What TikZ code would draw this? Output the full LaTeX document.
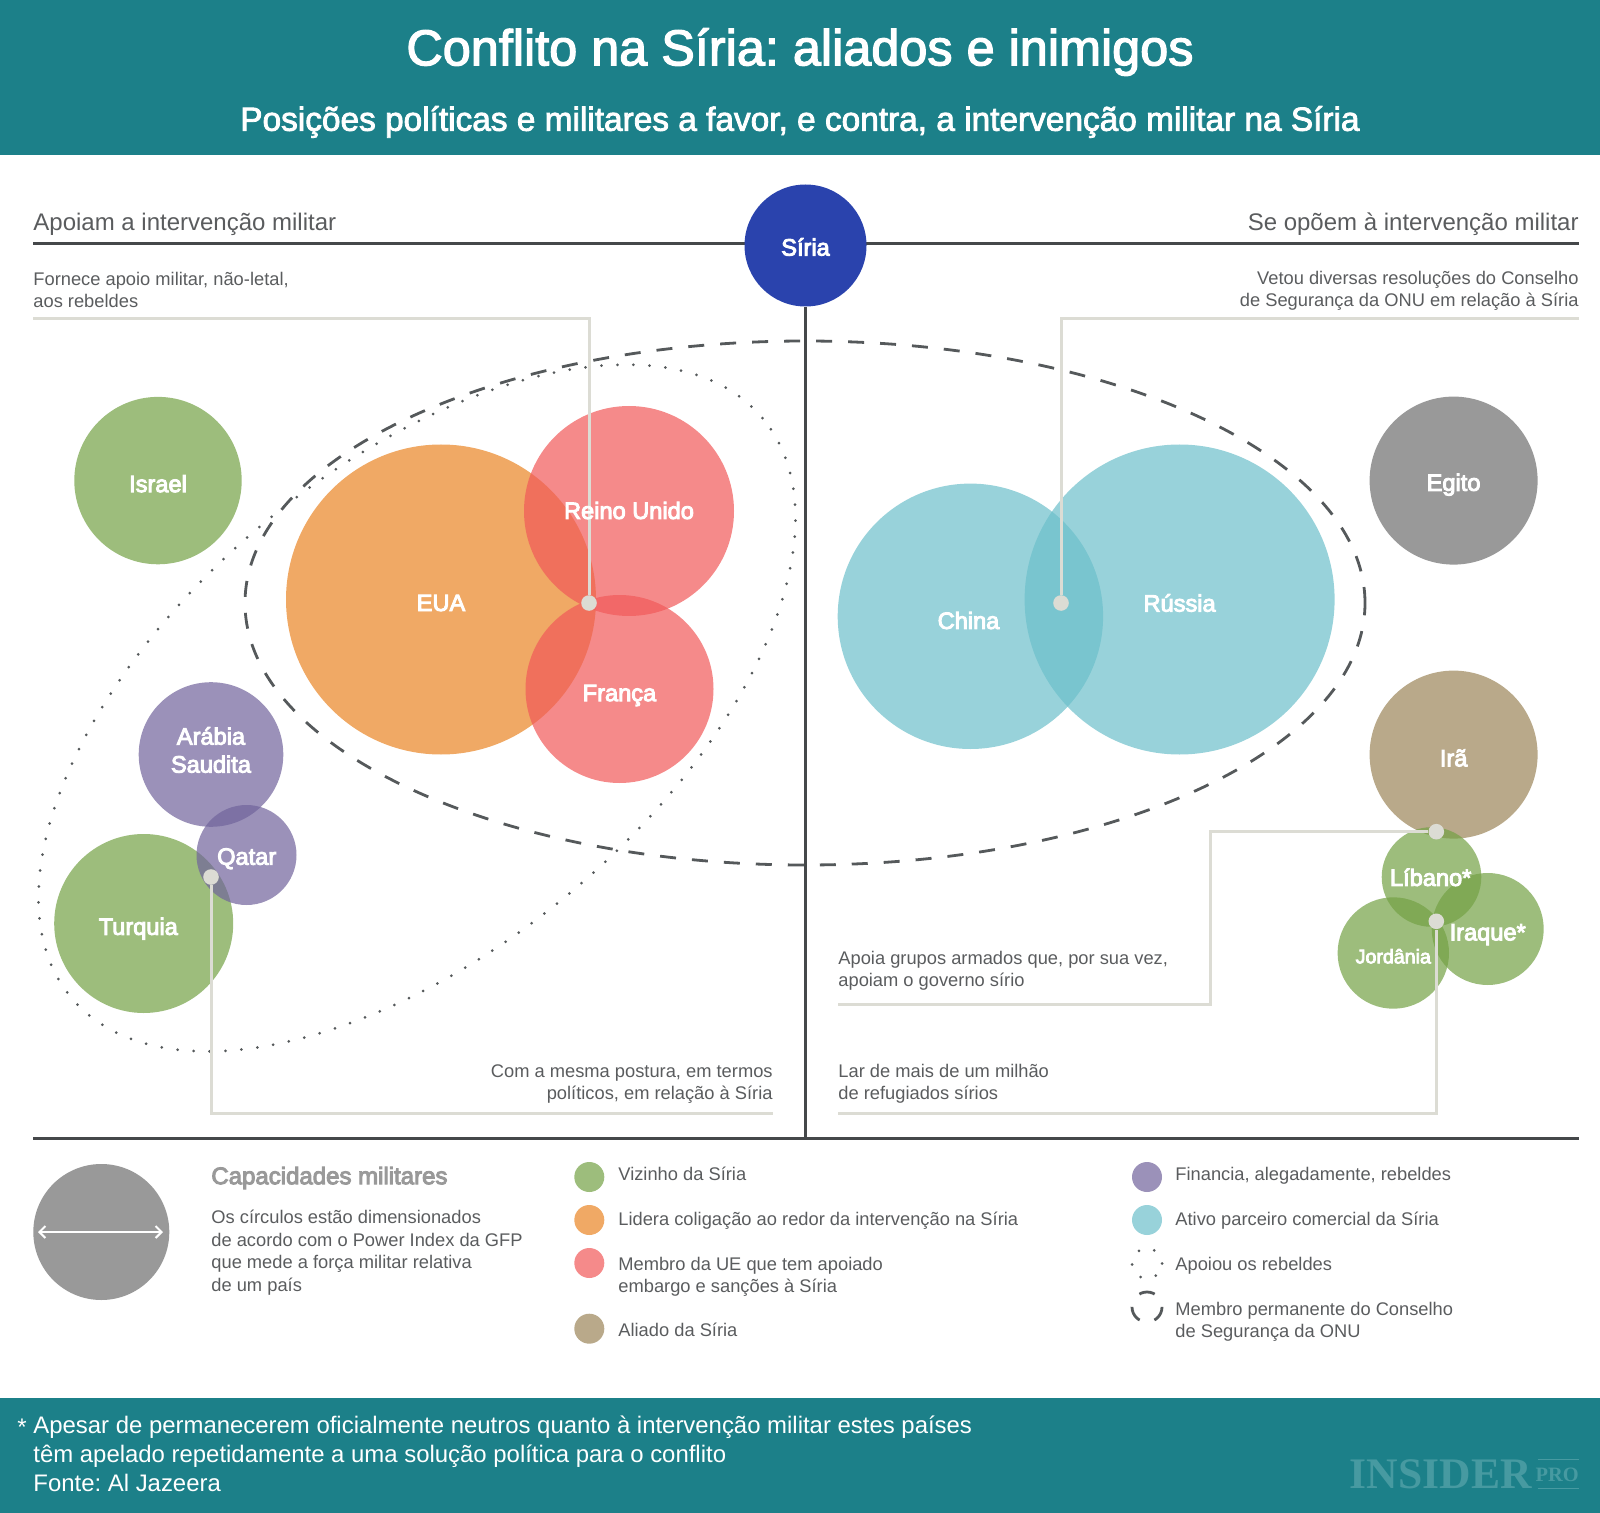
\documentclass[tikz,border=0pt]{standalone}
\usepackage{fontspec}
\setmainfont{Liberation Sans}
\newfontfamily\medfont[FakeBold=2.5]{Liberation Sans}
\newfontfamily\labelfont[FakeBold=4]{Liberation Sans}
\newfontfamily\logofont{Liberation Serif}
\usetikzlibrary{arrows.meta, shapes.geometric}
\definecolor{teal}{HTML}{1C8089}
\definecolor{ink}{HTML}{45484A}
\definecolor{ringgray}{HTML}{55595B}
\definecolor{textgray}{HTML}{5A5C5E}
\definecolor{railgray}{HTML}{DCDCD4}
\definecolor{neighbour}{HTML}{73A144}
\definecolor{leader}{HTML}{E98423}
\definecolor{eumember}{HTML}{F15959}
\definecolor{funder}{HTML}{70639B}
\definecolor{partner}{HTML}{6CBFCA}
\definecolor{ally}{HTML}{9B8458}
\definecolor{neutral}{HTML}{6D6D6D}
\definecolor{syriablue}{HTML}{2A43AD}
\definecolor{logotext}{HTML}{479AA1}

\begin{document}
\frenchspacing
\begin{tikzpicture}[
		x=0.5pt, y=-0.5pt,
		disc/.style={circle, inner sep=0pt, fill opacity=0.7, draw=none, minimum size=#1pt},
		key/.style={circle, inner sep=0pt, fill opacity=0.7, draw=none, minimum size=15pt},
		country/.style={text=white, font=\fontsize{11.8}{14}\labelfont, align=center, inner sep=0pt},
		note/.style={text=textgray, font=\fontsize{9.15}{11.2}\selectfont, inner sep=0pt},
		heading/.style={text=textgray, font=\fontsize{12}{14}\selectfont, inner sep=0pt},
		rail/.style={draw=railgray, line width=1.5pt},
		pin/.style={circle, fill=railgray, inner sep=0pt, minimum size=7.8pt},
		axis/.style={draw=ink, line width=1.5pt},
		rebelring/.style={draw=ringgray, line width=1.5pt, line cap=round, dash pattern=on 0pt off 8pt},
		councilring/.style={draw=ringgray, line width=1.4pt, dash pattern=on 8pt off 8pt},
	]

	\useasboundingbox (0, 0) rectangle (1600, 1513);

	% header and footer
	\node[fill=teal, minimum width=800pt, minimum height=77.5pt, inner sep=0pt, anchor=north west] (header) at (0, 0) {};
	\node[fill=teal, minimum width=800pt, minimum height=57.5pt, inner sep=0pt, anchor=north west] (footer) at (0, 1398) {};
	\node[text=white, font=\fontsize{25.2}{30}\medfont] (title) at (800, 52) {Conflito na Síria: aliados e inimigos};
	\node[text=white, font=\fontsize{16.7}{19}\medfont] (subtitle) at (800, 122) {Posições políticas e militares a favor, e contra, a intervenção militar na Síria};

	% axes
	\coordinate (topleft) at (33, 244);
	\coordinate (topright) at (1579, 244);
	\coordinate (botleft) at (33, 1138);
	\coordinate (botright) at (1579, 1138);
	\coordinate (axisfoot) at (805.5, 1138);
	\draw[axis] (topleft) -- (topright);
	\draw[axis] (botleft) -- (botright);

	\node[fill=syriablue, circle, inner sep=0pt, minimum size=61pt] (siria) at (805.5, 245.5) {};
	\draw[axis] (siria) -- (axisfoot);
	\node[country] (siriatext) at (805.5, 247) {Síria};

	\node[heading, anchor=west] (pro) at (33, 224) {Apoiam a intervenção militar};
	\node[heading, anchor=east] (contra) at (1579, 224) {Se opõem à intervenção militar};

	% circles
	\node[disc=83.7, fill=neighbour] (israel) at (158, 480.6) {};
	\node[disc=155, fill=leader] (eua) at (441, 599.5) {};
	\node[disc=105, fill=eumember] (reino) at (629, 511) {};
	\node[disc=94, fill=eumember] (franca) at (619.5, 689) {};
	\node[disc=72.3, fill=funder] (arabia) at (211, 754.5) {};
	\node[disc=89.5, fill=neighbour] (turquia) at (143.7, 923.5) {};
	\node[disc=50, fill=funder] (qatar) at (246.5, 855) {};

	\node[disc=132.7, fill=partner] (china) at (970.4, 616.3) {};
	\node[disc=155, fill=partner] (russia) at (1179.6, 599.5) {};
	\node[disc=84, fill=neutral] (egito) at (1453.6, 480.6) {};
	\node[disc=84, fill=ally] (ira) at (1453.6, 754.6) {};
	\node[disc=49.8, fill=neighbour] (libano) at (1431.5, 877) {};
	\node[disc=56, fill=neighbour] (iraque) at (1487.7, 929) {};
	\node[disc=55.7, fill=neighbour] (jordania) at (1393.3, 953) {};

	% rings
	\node[draw, ellipse, councilring, inner sep=0pt, minimum width=560pt, minimum height=262pt] (council) at (805, 603) {};
	\node[draw, ellipse, rebelring, inner sep=0pt, minimum width=451pt, minimum height=240pt, rotate=40] (rebels) at (417, 708) {};

	% callouts
	\node[pin] (pinuk) at (589, 603) {};
	\node[pin] (pinchina) at (1061, 603) {};
	\node[pin] (pinturk) at (211, 877) {};
	\node[pin] (pinira) at (1436.3, 831.7) {};
	\node[pin] (pinjord) at (1436.3, 921.3) {};

	\coordinate (endfornece) at (33, 319);
	\coordinate (endvetou) at (1579, 319);
	\coordinate (endpostura) at (773, 1113);
	\coordinate (endlar) at (838, 1113);
	\coordinate (kneeup) at (1210, 831.7);
	\coordinate (kneedown) at (1210, 1004);
	\coordinate (endapoia) at (838, 1004);

	\draw[rail] (endfornece) -| (pinuk);
	\draw[rail] (endvetou) -| (pinchina);
	\draw[rail] (pinturk) |- (endpostura);
	\draw[rail] (pinjord) |- (endlar);
	\draw[rail] (pinira) -- (kneeup) -- (kneedown) -- (endapoia);

	% labels
	\node[country] (israeltext) at (158, 483.7) {Israel};
	\node[country] (euatext) at (441, 603) {EUA};
	\node[country] (reinotext) at (629, 510.5) {Reino Unido};
	\node[country] (francatext) at (619.5, 695.5) {França};
	\node[country] (arabiatext) at (211, 750) {Arábia\\Saudita};
	\node[country] (qatartext) at (246.7, 858.7) {Qatar};
	\node[country] (turquiatext) at (138.3, 928.7) {Turquia};
	\node[country] (chinatext) at (968.5, 620.5) {China};
	\node[country] (russiatext) at (1179.6, 603) {Rússia};
	\node[country] (egitotext) at (1453.6, 484.7) {Egito};
	\node[country] (iratext) at (1453.6, 758) {Irã};
	\node[country] (libanotext) at (1430.7, 877.3) {Líbano*};
	\node[country] (iraquetext) at (1487.7, 934.7) {Iraque*};
	\node[country, font=\fontsize{9.8}{12}\labelfont] (jordaniatext) at (1393.3, 956.3) {Jordânia};

	\node[note, anchor=west, align=left] (fornece) at (33, 290) {Fornece apoio militar, não-letal,\\aos rebeldes};
	\node[note, anchor=east, align=right] (vetou) at (1579, 291) {Vetou diversas resoluções do Conselho\\de Segurança da ONU em relação à Síria};
	\node[note, anchor=east, align=right] (postura) at (773, 1084) {Com a mesma postura, em termos\\políticos, em relação à Síria};
	\node[note, anchor=west, align=left] (lar) at (838, 1084) {Lar de mais de um milhão\\de refugiados sírios};
	\node[note, anchor=west, align=left] (apoia) at (838, 971) {Apoia grupos armados que, por sua vez,\\apoiam o governo sírio};

	% legend
	\node[disc=68, fill=neutral] (scaledisc) at (101.3, 1232) {};
	\coordinate (scaleleft) at (38, 1232);
	\coordinate (scaleright) at (163, 1232);
	\draw[draw=white, line width=1pt, {Straight Barb[length=3pt]}-{Straight Barb[length=3pt]}] (scaleleft) -- (scaleright);
	\node[anchor=west, inner sep=0pt, text=neutral!70, font=\fontsize{12}{14}\labelfont] (scaletitle) at (211, 1178) {Capacidades militares};
	\node[note, anchor=west, align=left] (scaletext) at (211, 1252.7) {Os círculos estão dimensionados\\de acordo com o Power Index da GFP\\que mede a força militar relativa\\de um país};

	\node[key, fill=neighbour] (keyviz) at (589.3, 1177) {};
	\node[key, fill=leader] (keylead) at (589.3, 1220) {};
	\node[key, fill=eumember] (keyeu) at (589.3, 1263) {};
	\node[key, fill=ally] (keyally) at (589.3, 1328.7) {};
	\node[note, anchor=west] (txtviz) at (618, 1173.5) {Vizinho da Síria};
	\node[note, anchor=west] (txtlead) at (618, 1220.5) {Lidera coligação ao redor da intervenção na Síria};
	\node[note, anchor=west, align=left] (txteu) at (618, 1276.5) {Membro da UE que tem apoiado\\embargo e sanções à Síria};
	\node[note, anchor=west] (txtally) at (618, 1330) {Aliado da Síria};

	\node[key, fill=funder] (keyfund) at (1147, 1177) {};
	\node[key, fill=partner] (keypart) at (1147, 1220) {};
	\node[circle, inner sep=0pt, minimum size=15pt, rebelring] (keyrebel) at (1147, 1263.5) {};
	\node[circle, inner sep=0pt, minimum size=15pt, councilring, dash pattern=on 8pt off 7.7pt, dash phase=7.95pt] (keycouncil) at (1147, 1307) {};
	\node[note, anchor=west] (txtfund) at (1175, 1175.5) {Financia, alegadamente, rebeldes};
	\node[note, anchor=west] (txtpart) at (1175, 1220.5) {Ativo parceiro comercial da Síria};
	\node[note, anchor=west] (txtrebel) at (1175, 1266) {Apoiou os rebeldes};
	\node[note, anchor=west, align=left] (txtcouncil) at (1175, 1321.5) {Membro permanente do Conselho\\de Segurança da ONU};

	% footer text
	\node[text=white, anchor=west, inner sep=0pt, font=\fontsize{11.96}{14.5}\selectfont, align=left] (source) at (33, 1454) {Apesar de permanecerem oficialmente neutros quanto à intervenção militar estes países\\têm apelado repetidamente a uma solução política para o conflito\\Fonte: Al Jazeera};
	\node[text=white, anchor=east, inner sep=0pt, font=\fontsize{12}{14.5}\selectfont] (star) at (27, 1427) {*};
	\node[text=logotext, anchor=east, inner sep=0pt, font=\fontsize{21.8}{24}\logofont\bfseries] (logo) at (1532, 1474) {INSIDER};
	\node[text=logotext, anchor=east, inner sep=0pt, font=\fontsize{10.2}{12}\logofont\bfseries] (logopro) at (1579, 1475) {PRO};
	\coordinate (prolefttop) at (1537.5, 1459.5);
	\coordinate (prorighttop) at (1579, 1459.5);
	\coordinate (proleftbot) at (1537.5, 1488.5);
	\coordinate (prorightbot) at (1579, 1488.5);
	\draw[logotext, line width=0.8pt] (prolefttop) -- (prorighttop);
	\draw[logotext, line width=0.8pt] (proleftbot) -- (prorightbot);
\end{tikzpicture}
\end{document}
